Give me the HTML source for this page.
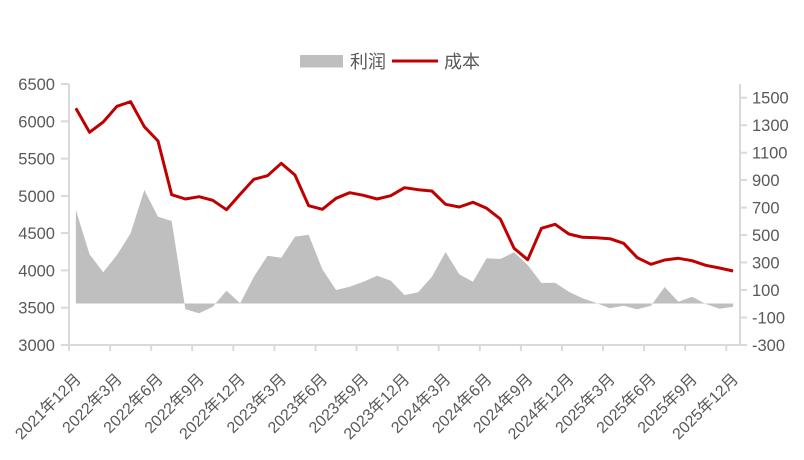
<!DOCTYPE html>
<html>
<head>
<meta charset="utf-8">
<style>
html,body{margin:0;padding:0;background:#fff;}
svg{display:block;}
text{font-family:"Liberation Sans","Noto Sans CJK SC",sans-serif;fill:#595959;}
</style>
</head>
<body>
<svg width="804" height="460" viewBox="0 0 804 460" xmlns="http://www.w3.org/2000/svg">
<rect width="804" height="460" fill="#fff"/>

<!-- legend -->
<rect x="300" y="55" width="43" height="12.5" fill="#bfbfbf"/>
<text x="350" y="68" font-size="18">利润</text>
<line x1="392" y1="61" x2="438" y2="61" stroke="#c00000" stroke-width="3"/>
<text x="444" y="68" font-size="18">成本</text>

<!-- axes -->
<g stroke="#d9d9d9" stroke-width="2" fill="none">
<line x1="69" y1="84" x2="69" y2="345"/>
<line x1="740" y1="84" x2="740" y2="345"/>
<line x1="61" y1="345" x2="747" y2="345"/>
<!-- left ticks -->
<line x1="61" y1="84" x2="69" y2="84"/>
<line x1="61" y1="121.3" x2="69" y2="121.3"/>
<line x1="61" y1="158.6" x2="69" y2="158.6"/>
<line x1="61" y1="195.9" x2="69" y2="195.9"/>
<line x1="61" y1="233.1" x2="69" y2="233.1"/>
<line x1="61" y1="270.4" x2="69" y2="270.4"/>
<line x1="61" y1="307.7" x2="69" y2="307.7"/>
<!-- right ticks -->
<line x1="740" y1="97.7" x2="747" y2="97.7"/>
<line x1="740" y1="125.2" x2="747" y2="125.2"/>
<line x1="740" y1="152.7" x2="747" y2="152.7"/>
<line x1="740" y1="180.1" x2="747" y2="180.1"/>
<line x1="740" y1="207.6" x2="747" y2="207.6"/>
<line x1="740" y1="235.1" x2="747" y2="235.1"/>
<line x1="740" y1="262.5" x2="747" y2="262.5"/>
<line x1="740" y1="290.0" x2="747" y2="290.0"/>
<line x1="740" y1="317.5" x2="747" y2="317.5"/>
<!-- bottom ticks -->
<line x1="69" y1="345" x2="69" y2="351"/>
<line x1="110.1" y1="345" x2="110.1" y2="351"/>
<line x1="151.2" y1="345" x2="151.2" y2="351"/>
<line x1="192.2" y1="345" x2="192.2" y2="351"/>
<line x1="233.3" y1="345" x2="233.3" y2="351"/>
<line x1="274.4" y1="345" x2="274.4" y2="351"/>
<line x1="315.5" y1="345" x2="315.5" y2="351"/>
<line x1="356.6" y1="345" x2="356.6" y2="351"/>
<line x1="397.7" y1="345" x2="397.7" y2="351"/>
<line x1="438.7" y1="345" x2="438.7" y2="351"/>
<line x1="479.8" y1="345" x2="479.8" y2="351"/>
<line x1="520.9" y1="345" x2="520.9" y2="351"/>
<line x1="562.0" y1="345" x2="562.0" y2="351"/>
<line x1="603.1" y1="345" x2="603.1" y2="351"/>
<line x1="644.1" y1="345" x2="644.1" y2="351"/>
<line x1="685.2" y1="345" x2="685.2" y2="351"/>
<line x1="726.3" y1="345" x2="726.3" y2="351"/>
</g>

<!-- left labels -->
<g font-size="16.5" text-anchor="end">
<text x="55" y="90">6500</text>
<text x="55" y="127.3">6000</text>
<text x="55" y="164.6">5500</text>
<text x="55" y="201.9">5000</text>
<text x="55" y="239.1">4500</text>
<text x="55" y="276.4">4000</text>
<text x="55" y="313.7">3500</text>
<text x="55" y="351">3000</text>
</g>
<!-- right labels -->
<g font-size="16.5" text-anchor="start">
<text x="752" y="103.7">1500</text>
<text x="752" y="131.2">1300</text>
<text x="752" y="158.7">1100</text>
<text x="752" y="186.1">900</text>
<text x="752" y="213.6">700</text>
<text x="752" y="241.1">500</text>
<text x="752" y="268.5">300</text>
<text x="752" y="296.0">100</text>
<text x="752" y="323.5">-100</text>
<text x="752" y="351">-300</text>
</g>

<!-- profit area -->
<polygon fill="#bfbfbf" points="75.85,210 89.54,254.3 103.23,272.3 116.93,255 130.62,233.3 144.32,190 158.01,216.7 171.70,221 185.40,309.3 199.09,313.3 212.78,306.7 226.48,290.7 240.17,303.3 253.86,276.7 267.56,255.7 281.25,257.7 294.95,236.7 308.64,234.7 322.33,269.3 336.03,290 349.72,286.7 363.41,281.7 377.11,275.7 390.80,280.7 404.50,295 418.19,292.3 431.88,276.7 445.58,252 459.27,274.3 472.96,281.7 486.66,258.3 500.35,259 514.05,252.3 527.74,265 541.43,283 555.13,282.7 568.82,291.7 582.51,298.3 596.21,303 609.90,308.3 623.60,305.7 637.29,309.3 650.98,305.7 664.68,287 678.37,301.7 692.06,296.7 705.76,304 719.45,308.7 733.15,306.7 733.15,303.5 75.85,303.5"/>

<!-- cost line -->
<polyline fill="none" stroke="#c00000" stroke-width="3" stroke-linejoin="round" points="75.85,108.3 89.54,132.3 103.23,122 116.93,106.3 130.62,101.7 144.32,126.7 158.01,141 171.70,194.7 185.40,199 199.09,196.7 212.78,200.3 226.48,209.7 240.17,194.3 253.86,179.3 267.56,175.7 281.25,163.3 294.95,175 308.64,205.7 322.33,209.3 336.03,198.3 349.72,192.7 363.41,195.3 377.11,199 390.80,195.7 404.50,187.7 418.19,189.7 431.88,191 445.58,204.3 459.27,207 472.96,202.3 486.66,208.3 500.35,219 514.05,248.3 527.74,259.7 541.43,228.3 555.13,224.3 568.82,234 582.51,237.3 596.21,237.7 609.90,238.7 623.60,243.3 637.29,257.7 650.98,264.3 664.68,260 678.37,258.3 692.06,260.7 705.76,265.3 719.45,268 733.15,271"/>

<!-- x labels -->
<g font-size="16" text-anchor="end">
<text transform="translate(82,380) rotate(-45)">2021年12月</text>
<text transform="translate(122.9,380) rotate(-45)">2022年3月</text>
<text transform="translate(164,380) rotate(-45)">2022年6月</text>
<text transform="translate(205.1,380) rotate(-45)">2022年9月</text>
<text transform="translate(246.2,380) rotate(-45)">2022年12月</text>
<text transform="translate(287.3,380) rotate(-45)">2023年3月</text>
<text transform="translate(328.3,380) rotate(-45)">2023年6月</text>
<text transform="translate(369.4,380) rotate(-45)">2023年9月</text>
<text transform="translate(410.5,380) rotate(-45)">2023年12月</text>
<text transform="translate(451.6,380) rotate(-45)">2024年3月</text>
<text transform="translate(492.7,380) rotate(-45)">2024年6月</text>
<text transform="translate(533.7,380) rotate(-45)">2024年9月</text>
<text transform="translate(574.8,380) rotate(-45)">2024年12月</text>
<text transform="translate(615.9,380) rotate(-45)">2025年3月</text>
<text transform="translate(657,380) rotate(-45)">2025年6月</text>
<text transform="translate(698.1,380) rotate(-45)">2025年9月</text>
<text transform="translate(739.2,380) rotate(-45)">2025年12月</text>
</g>
</svg>
</body>
</html>
